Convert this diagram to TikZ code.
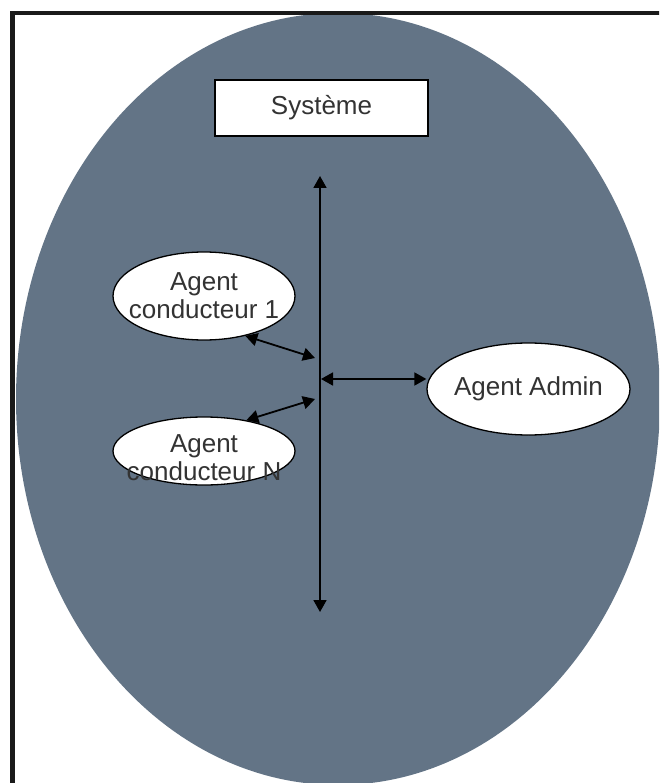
\documentclass[tikz,border=0pt]{standalone}
\usepackage{fontspec}
\setmainfont{Liberation Sans}
\usetikzlibrary{shapes.geometric,arrows.meta}
\definecolor{slate}{RGB}{99,116,134}
\definecolor{ink}{RGB}{51,51,51}
\definecolor{frame}{RGB}{26,26,26}
\tikzset{
  agent/.style={ellipse, draw=black, line width=1.3pt, fill=white, inner sep=0pt},
  agenttext/.style={font=\fontsize{26}{28}\selectfont, text=ink, align=center, inner sep=0pt},
  link/.style={line width=1.8pt, {Triangle[length=12pt,width=13pt]}-{Triangle[length=12pt,width=13pt]}},
}
\begin{document}
\begin{tikzpicture}[x=1pt, y=-1pt]
  \clip (0,0) rectangle (659,783);
  \fill[white] (0,0) rectangle (659,783);
  % system boundary
  \fill[slate] (338,399) ellipse [x radius=322, y radius=386];
  % frame
  \draw[frame, line width=4.5pt] (660,13) -- (12.5,13) -- (12.5,784);

  \node[draw=black, line width=1.3pt, fill=white, minimum width=213pt, minimum height=56pt,
        inner sep=0pt, agenttext] (sys) at (321.5,108) {Système};

  \node[agent, minimum width=182pt, minimum height=88pt,
        label={[agenttext]center:{Agent\\conducteur 1}}] (c1) at (204,296) {};
  \node[agent, minimum width=182pt, minimum height=68pt,
        label={[agenttext, yshift=-7pt]center:{Agent\\conducteur N}}] (cn) at (204,451) {};
  \node[agent, minimum width=203pt, minimum height=92pt,
        label={[agenttext]center:{Agent Admin}}] (adm) at (528.5,389) {};

  % message bus
  \coordinate (busTop) at (320,176);
  \coordinate (busBot) at (320,612);
  \coordinate (busA) at (321,379);
  \coordinate (bus1) at (315,358);
  \coordinate (busN) at (315,399);

  \draw[link] (busTop) -- (busBot);
  \draw[link] (busA) -- (busA -| adm.west);
  \draw[link] (c1.-44) -- (bus1);
  \draw[link] (busN) -- (cn.36);
\end{tikzpicture}
\end{document}
